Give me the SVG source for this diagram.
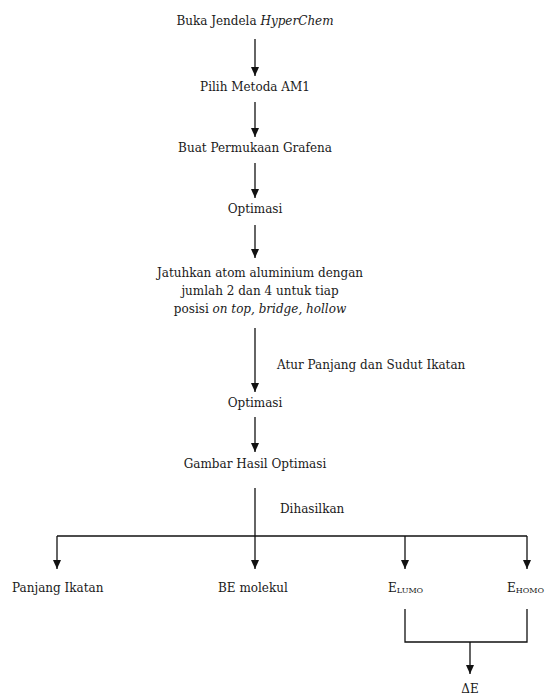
<svg xmlns="http://www.w3.org/2000/svg" width="548" height="695" viewBox="0 0 548 695">
  <style>
    text { font-family: "DejaVu Serif", "Liberation Serif", serif; font-size: 12px; fill: #1a1a1a; }
    .c { text-anchor: middle; }
    .i { font-style: italic; }
    .sub { font-size: 8px; }
    .ln { stroke: #111; stroke-width: 1.3; fill: none; }
  </style>
  <defs>
    <!-- solid triangular arrowhead, tip at the end of the line -->
    <marker id="ah" viewBox="0 0 9 8" refX="9" refY="4" markerWidth="9" markerHeight="8" markerUnits="userSpaceOnUse" orient="auto">
      <path d="M0,0 L9,4 L0,8 Z" fill="#111"/>
    </marker>
  </defs>
  <rect width="548" height="695" fill="#fff"/>

  <g id="connectors">
    <line class="ln" x1="255" y1="39" x2="255" y2="76" marker-end="url(#ah)"/>
    <line class="ln" x1="255" y1="102" x2="255" y2="137" marker-end="url(#ah)"/>
    <line class="ln" x1="255" y1="163" x2="255" y2="198" marker-end="url(#ah)"/>
    <line class="ln" x1="255" y1="225" x2="255" y2="258" marker-end="url(#ah)"/>
    <line class="ln" x1="255" y1="328" x2="255" y2="392" marker-end="url(#ah)"/>
    <line class="ln" x1="255" y1="417" x2="255" y2="452" marker-end="url(#ah)"/>
    <line class="ln" x1="255" y1="488" x2="255" y2="569" marker-end="url(#ah)"/>
    <line class="ln" x1="57" y1="536" x2="527" y2="536"/>
    <line class="ln" x1="57" y1="536" x2="57" y2="569" marker-end="url(#ah)"/>
    <line class="ln" x1="405" y1="536" x2="405" y2="569" marker-end="url(#ah)"/>
    <line class="ln" x1="527" y1="536" x2="527" y2="569" marker-end="url(#ah)"/>
    <polyline class="ln" points="405,609 405,642 527,642 527,609"/>
    <line class="ln" x1="470" y1="642" x2="470" y2="674" marker-end="url(#ah)"/>
  </g>

  <g id="n1"><text class="c" x="255" y="25">Buka Jendela <tspan class="i">HyperChem</tspan></text></g>
  <g id="n2"><text class="c" x="255" y="91">Pilih Metoda AM1</text></g>
  <g id="n3"><text class="c" x="255" y="152">Buat Permukaan Grafena</text></g>
  <g id="n4"><text class="c" x="255" y="213">Optimasi</text></g>
  <g id="n5">
    <text class="c" x="260" y="277">Jatuhkan atom aluminium dengan</text>
    <text class="c" x="260" y="295">jumlah 2 dan 4 untuk tiap</text>
    <text class="c" x="260" y="313">posisi <tspan class="i">on top, bridge, hollow</tspan></text>
  </g>
  <g id="lbl-atur"><text x="277" y="369">Atur Panjang dan Sudut Ikatan</text></g>
  <g id="n6"><text class="c" x="255" y="407">Optimasi</text></g>
  <g id="n7"><text class="c" x="255" y="468">Gambar Hasil Optimasi</text></g>
  <g id="lbl-hasil"><text x="280" y="513">Dihasilkan</text></g>
  <g id="n8"><text x="12" y="592">Panjang Ikatan</text></g>
  <g id="n9"><text x="218" y="592">BE molekul</text></g>
  <g id="n10"><text x="388" y="592">E<tspan class="sub" dy="1">LUMO</tspan></text></g>
  <g id="n11"><text x="507" y="592">E<tspan class="sub" dy="1">HOMO</tspan></text></g>
  <g id="n12"><text class="c" x="470" y="693">ΔE</text></g>
</svg>
